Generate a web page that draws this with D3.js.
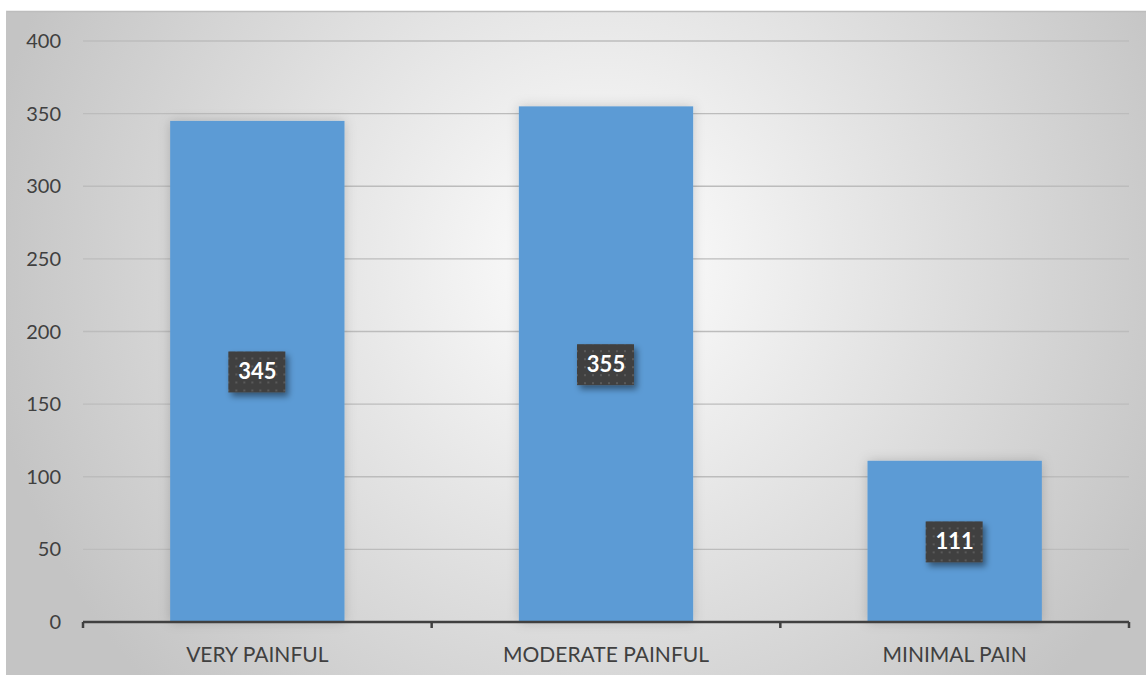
<!DOCTYPE html>
<html>
<head>
<meta charset="utf-8">
<script src="https://cdn.jsdelivr.net/npm/d3@7"></script>
<style>
  body { margin: 0; background: #fff; }
  svg { display: block; font-family: Lato, "Open Sans", sans-serif; }
</style>
</head>
<body>
<script>
var categories = ["VERY PAINFUL", "MODERATE PAINFUL", "MINIMAL PAIN"];
var values = [345, 355, 111];
var yTicks = [0, 50, 100, 150, 200, 250, 300, 350, 400];

var W = 1146, H = 675;
var margin = {left: 83, right: 17, top: 41, bottom: 53};

var svg = d3.select('body').append('svg').attr('width', W).attr('height', H);
var defs = svg.append('defs');

// background gradient like the office chart style
var grad = defs.append('radialGradient').attr('id', 'bg')
  .attr('gradientUnits', 'userSpaceOnUse')
  .attr('cx', 600).attr('cy', 260).attr('r', 620);
grad.append('stop').attr('offset', '0%').attr('stop-color', '#ffffff');
grad.append('stop').attr('offset', '100%').attr('stop-color', '#c4c4c4');

var shadow = defs.append('filter').attr('id', 'shadow')
  .attr('x', '-20%').attr('y', '-20%').attr('width', '150%').attr('height', '150%');
shadow.append('feDropShadow').attr('dx', 3).attr('dy', 4).attr('stdDeviation', 3)
  .attr('flood-color', '#000').attr('flood-opacity', 0.45);

var barShadow = defs.append('filter').attr('id', 'barShadow')
  .attr('x', '-20%').attr('y', '-10%').attr('width', '140%').attr('height', '120%');
barShadow.append('feDropShadow').attr('dx', 0).attr('dy', 0).attr('stdDeviation', 6)
  .attr('flood-color', '#000').attr('flood-opacity', 0.18);

// dotted pattern for label boxes
var pat = defs.append('pattern').attr('id', 'dots')
  .attr('patternUnits', 'userSpaceOnUse').attr('width', 8).attr('height', 8);
pat.append('rect').attr('width', 8).attr('height', 8).attr('fill', '#404040');
pat.append('rect').attr('x', 2).attr('y', 2).attr('width', 2).attr('height', 2).attr('fill', '#5a5a5a');

svg.append('rect').attr('x', 6).attr('y', 11).attr('width', W - 6).attr('height', H - 11)
  .attr('fill', 'url(#bg)');
svg.append('line').attr('x1', 6).attr('x2', W).attr('y1', 11.5).attr('y2', 11.5)
  .attr('stroke', '#bdbdbd').attr('stroke-width', 1.5);
svg.append('line').attr('x1', 6.5).attr('x2', 6.5).attr('y1', 11).attr('y2', H)
  .attr('stroke', '#c4c4c4').attr('stroke-width', 1);

var x = d3.scaleBand().domain(categories)
  .range([margin.left, W - margin.right]).paddingInner(0.5).paddingOuter(0.25);
var y = d3.scaleLinear().domain([0, 400]).range([H - margin.bottom, margin.top]);

// gridlines
svg.append('g').selectAll('line.grid').data(yTicks.slice(1)).enter()
  .append('line').classed('grid', true)
  .attr('x1', margin.left).attr('x2', W - margin.right)
  .attr('y1', function(d){ return y(d); }).attr('y2', function(d){ return y(d); })
  .attr('stroke', '#bcbcbc').attr('stroke-width', 1.4);

// y labels
svg.append('g').selectAll('text').data(yTicks).enter()
  .append('text')
  .attr('x', 61).attr('y', function(d){ return y(d); })
  .attr('dy', '0.35em').attr('text-anchor', 'end')
  .attr('fill', '#404040').style('font-size', '20px')
  .text(function(d){ return d; });

// bars
svg.append('g').selectAll('rect.bar').data(values).enter()
  .append('rect').classed('bar', true)
  .attr('x', function(d, i){ return x(categories[i]); })
  .attr('width', x.bandwidth())
  .attr('y', function(d){ return y(d); })
  .attr('height', function(d){ return y(0) - y(d); })
  .attr('fill', '#5b9bd5')
  .attr('filter', 'url(#barShadow)');

// x axis
var xAxis = svg.append('g').attr('transform', 'translate(0,' + y(0) + ')');
xAxis.append('line').attr('x1', margin.left).attr('x2', W - margin.right)
  .attr('stroke', '#404040').attr('stroke-width', 2.5);
var step = (W - margin.right - margin.left) / categories.length;
xAxis.selectAll('line.tick').data(d3.range(categories.length + 1)).enter()
  .append('line').classed('tick', true)
  .attr('x1', function(d){ return margin.left + d * step; })
  .attr('x2', function(d){ return margin.left + d * step; })
  .attr('y1', 0).attr('y2', 6)
  .attr('stroke', '#404040').attr('stroke-width', 2.5);
xAxis.selectAll('text').data(categories).enter()
  .append('text')
  .attr('x', function(d){ return x(d) + x.bandwidth() / 2; })
  .attr('y', 40).attr('text-anchor', 'middle')
  .attr('fill', '#404040').style('font-size', '21px')
  .text(function(d){ return d; });

// data labels
var lab = svg.append('g').selectAll('g.label').data(values).enter()
  .append('g').classed('label', true)
  .attr('transform', function(d, i){
    return 'translate(' + (x(categories[i]) + x.bandwidth() / 2) + ',' + ((y(d) + y(0)) / 2) + ')';
  });
lab.append('rect').attr('x', -29).attr('y', -20).attr('width', 57).attr('height', 41)
  .attr('fill', 'url(#dots)').attr('filter', 'url(#shadow)');
lab.append('text').attr('text-anchor', 'middle').attr('dy', '0.36em')
  .attr('fill', '#fff').style('font-size', '22px').style('font-weight', 'bold')
  .text(function(d){ return d; });
</script>
</body>
</html>
